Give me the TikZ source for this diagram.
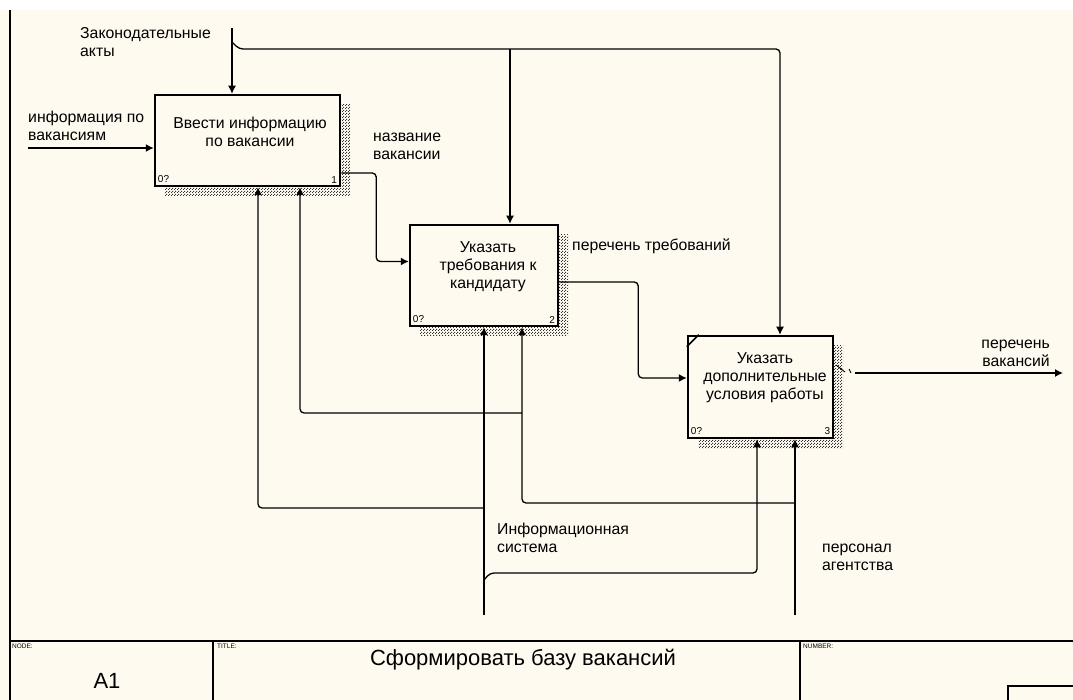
\documentclass[tikz,border=0pt]{standalone}
\usepackage{fontspec}
\setmainfont{Liberation Sans}
\usetikzlibrary{arrows.meta,patterns.meta,shadows}
\definecolor{cream}{RGB}{255,250,240}
\tikzdeclarepattern{name=shadedots, type=uncolored,
  bottom left={(0pt,0pt)}, top right={(3pt,3pt)}, tile size={(3pt,3pt)},
  code={\pgfpathrectangle{\pgfpointorigin}{\pgfpoint{1.3pt}{1.3pt}}
        \pgfpathrectangle{\pgfpoint{1.5pt}{1.5pt}}{\pgfpoint{1.3pt}{1.3pt}}
        \pgfusepath{fill}}}

\begin{document}
\begin{tikzpicture}[x=1pt,y=-1pt,
    proc/.style={draw, line width=2.5pt, fill=cream, inner sep=0pt,
      drop shadow={shadow xshift=10pt, shadow yshift=-10pt, opacity=1,
        pattern=shadedots, pattern color=black!80}},
    flow/.style={line width=1.3pt, rounded corners=4pt, -{Latex[length=8pt,width=8pt]}},
    lbl/.style={font=\fontsize{15.8}{18}\selectfont, align=left, inner sep=0pt},
    ptxt/.style={font=\fontsize{15.8}{18}\selectfont, align=center, inner sep=0pt, anchor=north},
    corner/.style={font=\fontsize{10}{10}\selectfont, inner sep=4pt},
    tiny/.style={font=\fontsize{6.5}{7}\selectfont, inner sep=0pt, anchor=north west}]
    \useasboundingbox (0,0) rectangle (1073,700);
    \fill[white] (0,0) rectangle (1073,700);
    \fill[cream] (0,10) rectangle (1073,700);

    % Frame and title block
    \draw[line width=1.2pt] (10,10) -- (10,700);
    \draw[line width=1.8pt] (10,641) -- (1073,641);
    \draw[line width=1.2pt] (213,641) -- (213,700);
    \draw[line width=1.2pt] (800,641) -- (800,700);
    \draw[line width=1.2pt] (1008,700) -- (1008,686) -- (1073,686);
    \node[tiny] at (12,644) {NODE:};
    \node[tiny] at (217,644) {TITLE:};
    \node[tiny] at (803,644) {NUMBER:};
    \node[font=\fontsize{22}{22}\selectfont] (nodeid) at (107,681) {A1};
    \node[font=\fontsize{22}{22}\selectfont] (title) at (523,660) {Сформировать базу вакансий};

    % Activity boxes
    \node[proc, minimum width=185pt, minimum height=91pt] (vvod) at (247.5,140.5) {};
    \node[proc, minimum width=148pt, minimum height=101pt] (req) at (484,275.5) {};
    \node[proc, minimum width=145pt, minimum height=102pt] (dop) at (760.5,387) {};
    \draw[line width=1.5pt] ([yshift=-12pt]dop.north west) -- ([xshift=12pt]dop.north west);

    \node[ptxt] at (250,117) {Ввести информацию\\по вакансии};
    \node[ptxt] at (488,241) {Указать\\требования к\\кандидату};
    \node[ptxt] at (765,352) {Указать\\дополнительные\\условия работы};

    \foreach \b/\n in {vvod/1, req/2, dop/3} {
        \node[corner, anchor=south west] at (\b.south west) {0?};
        \node[corner, anchor=south east] at (\b.south east) {\n};
    }

    % Arrow labels
    \node[lbl, anchor=north west] (lawlbl) at (80,27) {Законодательные\\акты};
    \node[lbl, anchor=north west] (inflbl) at (28,111) {информация по\\вакансиям};
    \node[lbl, anchor=north west] (namelbl) at (373,133) {название\\вакансии};
    \node[lbl, anchor=north west] (reqlbl) at (572,239) {перечень требований};
    \node[lbl, anchor=north east, align=right] (outlbl) at (1050,340) {перечень\\вакансий};
    \node[lbl, anchor=north west] (syslbl) at (497,523) {Информационная\\система};
    \node[lbl, anchor=north west] (stafflbl) at (822,544) {персонал\\агентства};

    % Controls
    \coordinate (lawsrc) at (232,28);
    \coordinate (lawfork) at (232,42);
    \coordinate (law2) at (510,49);
    \coordinate (law3) at (780,49);
    \draw[flow] (lawsrc) -- (vvod.north -| lawsrc);
    \draw[flow] (lawfork) -- ++(7,7) -- (law3) -- (dop.north -| law3);
    \draw[flow] (law2) -- (req.north -| law2);

    % Input and outputs
    \coordinate (infsrc) at (28,148);
    \draw[flow] (infsrc) -- (vvod.west |- infsrc);
    \draw[flow] ([yshift=-32.5pt]vvod.east) -- ++(35,0) |- ([yshift=14pt]req.west);
    \draw[flow] ([yshift=-6.5pt]req.east) -- ++(79,0) |- ([yshift=9pt]dop.west);
    \coordinate (outend) at (1063,373);
    \draw[line width=0.9pt] (836,365) -- (845,372);
    \draw[line width=0.9pt] (849,369) -- (851,373);
    \draw[flow] (855,373) -- (outend);

    % Mechanisms
    \coordinate (sys) at (484,615);
    \coordinate (sysA) at (484,508);
    \coordinate (sysB) at (484,580);
    \coordinate (staff) at (795,615);
    \coordinate (staffA) at (795,503);
    \coordinate (staffB) at (522,413);
    \draw[flow] (sys) -- (req.south -| sys);
    \draw[flow] (sysA) -| ([xshift=10.5pt]vvod.south);
    \draw[flow] (sysB) -- ++(6,-7) -| ([xshift=-3.5pt]dop.south);
    \draw[flow] (staff) -- (dop.south -| staff);
    \draw[flow] (staffA) -| ([xshift=38pt]req.south);
    \draw[flow] (staffB) -| ([xshift=52.5pt]vvod.south);
\end{tikzpicture}
\end{document}
